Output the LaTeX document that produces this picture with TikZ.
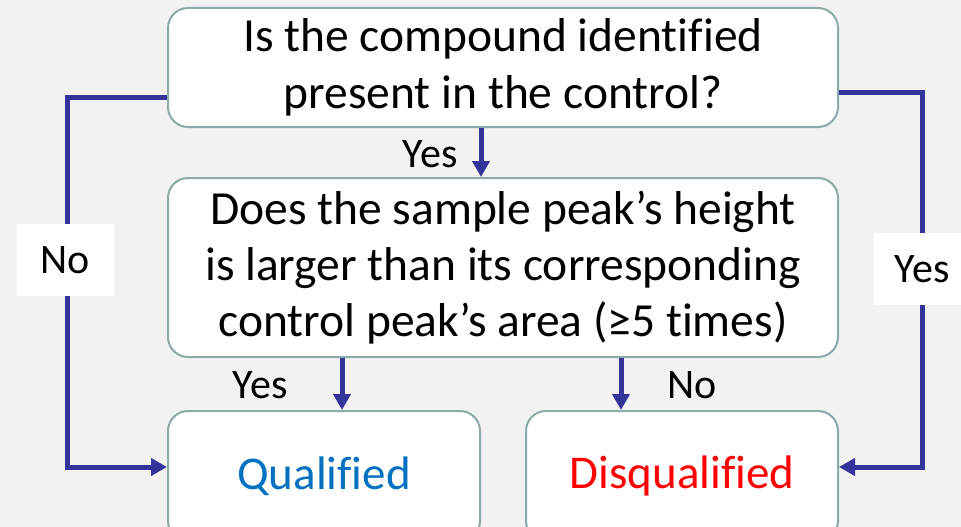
\documentclass[tikz,border=0pt]{standalone}
\usepackage{fontspec}
\setmainfont{Carlito}[Ligatures=NoCommon]
\usetikzlibrary{arrows.meta,calc}
\definecolor{bg}{HTML}{F2F2F2}
\definecolor{bord}{HTML}{8EA9A9}
\definecolor{conn}{HTML}{333399}
\definecolor{qblue}{HTML}{0070C0}
\definecolor{dred}{HTML}{FF0000}
\tikzset{
  box/.style={draw=bord, line width=2pt, fill=white, rounded corners=20pt, align=center, inner sep=0pt},
  connline/.style={draw=conn, line width=5pt, -{Triangle[length=16pt,width=17pt]}},
  plainline/.style={draw=conn, line width=5pt},
  lbl/.style={font=\fontsize{42pt}{46pt}\selectfont, inner sep=0pt},
  sidelbl/.style={fill=white, minimum width=97pt, minimum height=72pt, font=\fontsize{42pt}{46pt}\selectfont, inner sep=0pt},
}
\begin{document}
\begin{tikzpicture}[x=1pt,y=-1pt]
\clip (0,0) rectangle (961,527);
\fill[bg] (0,0) rectangle (961,527);
\node[box, minimum width=670pt, minimum height=119pt, font=\fontsize{47.5pt}{57pt}\selectfont] (top) at (503,67.5)
  {\raisebox{-3pt}{Is the compound identified}\\\raisebox{-3pt}{present in the control?}};
\node[box, minimum width=670pt, minimum height=179pt, font=\fontsize{47.5pt}{56pt}\selectfont] (mid) at (503,267.5)
  {Does the sample peak’s height\\is larger than its corresponding\\control peak’s area (≥5 times)};
\node[box, minimum width=312pt, minimum height=130pt, font=\fontsize{47pt}{50pt}\selectfont, text=qblue] (qual) at (324,476)
  {\raisebox{6pt}{Qualified}};
\node[box, minimum width=312pt, minimum height=130pt, font=\fontsize{47pt}{50pt}\selectfont, text=dred] (disq) at (682,476)
  {\raisebox{6pt}{Disqualified}};
\coordinate (lx) at (67,300);
\coordinate (rx) at (922,300);
% left No path
\draw[plainline] ([yshift=-30pt]top.west) -| (lx);
\draw[connline] (lx) |- ([yshift=9pt]qual.west);
\node[sidelbl] (nolbl) at (65,260) {No};
% right Yes path
\draw[plainline] ([yshift=-25pt]top.east) -| (rx);
\draw[connline] (rx) |- ([yshift=9pt]disq.east);
\node[sidelbl] (yeslbl) at (922,269) {Yes};
% vertical arrows
\draw[connline] (top.south -| qual.east) -- (mid.north -| qual.east);
\node[lbl] (y1) at (430,154) {Yes};
\draw[connline] ($(mid.south west)+(175,0)$) -- ($(qual.north west)+(175,0)$);
\node[lbl] (y2) at (260,385) {Yes};
\draw[connline] ($(mid.south west)+(454,0)$) -- ($(disq.north west)+(96,0)$);
\node[lbl] (n2) at (692,385) {No};
\end{tikzpicture}
\end{document}
